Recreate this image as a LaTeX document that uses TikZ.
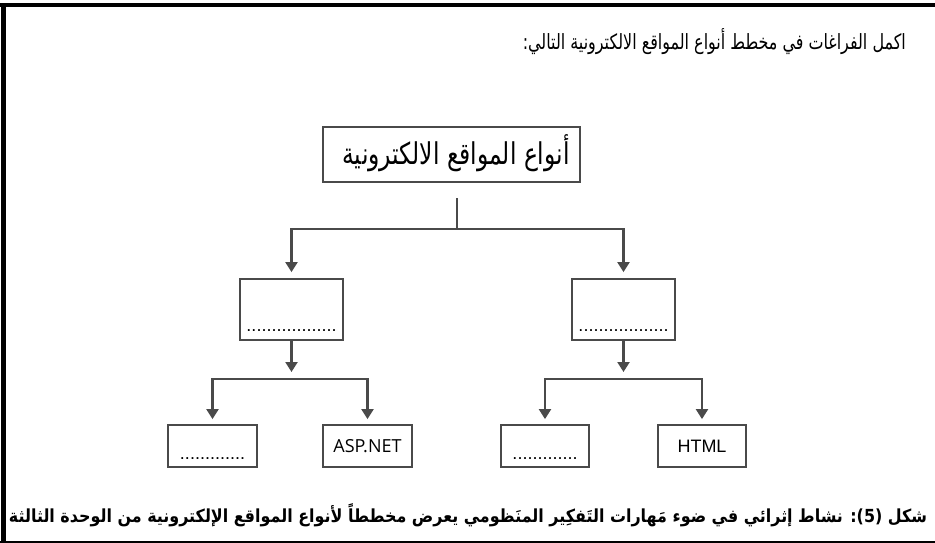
\documentclass[tikz,border=0pt]{standalone}
\usepackage{fontspec}
\setmainfont{Liberation Sans}
\newfontfamily\titlefont[Script=Arabic,FakeStretch=0.76]{DejaVu Sans}
\newfontfamily\rootfont[Script=Arabic,FakeStretch=0.78]{DejaVu Sans}
\newfontfamily\capfont[Script=Arabic,FakeStretch=0.885]{DejaVu Sans Bold}
\newfontfamily\osans{Open Sans}
\TeXXeTstate=1
\usetikzlibrary{arrows.meta}
\definecolor{ln}{HTML}{4A4A4A}
\tikzset{
  box/.style={draw=ln, line width=1.8pt, rectangle, inner sep=0pt},
  conn/.style={draw=ln, line width=2.2pt},
  arr/.style={conn, -{Triangle[width=12pt,length=10pt]}},
  dots/.style={font=\fontsize{18}{18}\selectfont, inner sep=0pt, anchor=base},
}
\begin{document}
\begin{tikzpicture}[x=1pt,y=-1pt]
\useasboundingbox (0,0) rectangle (935,543);
\fill[white] (0,0) rectangle (935,543);
% frame
\fill[black] (0,3) rectangle (935,7);
\fill[black] (1,3) rectangle (6,543);
\fill[black] (0,540.5) rectangle (935,542.5);
% title
\node[anchor=east, inner sep=0pt, font=\titlefont\fontsize{21}{24}\selectfont] (title) at (906,42) {\beginR اكمل الفراغات في مخطط أنواع المواقع الالكترونية التالي:\endR};
% boxes
\node[box, minimum width=257pt, minimum height=55pt] (root) at (451.5,154.5) {};
\node[inner sep=0pt, font=\rootfont\fontsize{30}{34}\selectfont] (roott) at (456,153) {\beginR أنواع المواقع الالكترونية\endR};
\node[box, minimum width=103pt, minimum height=61pt] (midL) at (291.5,309.5) {};
\node[box, minimum width=103pt, minimum height=61pt] (midR) at (623.5,309.5) {};
\node[dots] (midLt) at (291.5,331) {..................};
\node[dots] (midRt) at (623.5,331) {..................};
\node[box, minimum width=89pt, minimum height=42pt] (b1) at (212.5,446) {};
\node[box, minimum width=89pt, minimum height=42pt, font=\osans\fontsize{18}{20}\selectfont] (b2) at (367.5,446) {ASP.NET};
\node[box, minimum width=88pt, minimum height=42pt] (b3) at (545,446) {};
\node[box, minimum width=88pt, minimum height=42pt, font=\fontsize{18}{20}\selectfont] (b4) at (702,446) {HTML};
\node[dots] (b1t) at (212.5,459) {.............};
\node[dots] (b3t) at (545,459) {.............};
% connectors
\coordinate (s0) at (457,198);
\coordinate (j0) at (457,229);
\draw[conn] (s0) -- (j0);
\draw[arr, shorten >=6pt] (j0) -| (midL.north);
\draw[arr, shorten >=6pt] (j0) -| (midR.north);
\coordinate (jL) at (291.5,379);
\coordinate (jR) at (623.5,379);
\draw[arr, shorten >=7pt] (midL.south) -- (jL);
\draw[arr, shorten >=7pt] (midR.south) -- (jR);
\draw[arr, shorten >=5pt] (jL) -| (b1.north);
\draw[arr, shorten >=5pt] (jL) -| (b2.north);
\draw[arr, shorten >=5pt] (jR) -| (b3.north);
\draw[arr, shorten >=5pt] (jR) -| (b4.north);
% caption
\node[inner sep=0pt, font=\capfont\fontsize{18}{20}\selectfont] (cap) at (468,515) {\beginR شكل \beginL(5)\endL: نشاط إثرائي في ضوء مَهارات التَفكِير المنَظومي يعرض مخططاً لأنواع المواقع الإلكترونية من الوحدة الثالثة\endR};
\end{tikzpicture}
\end{document}
